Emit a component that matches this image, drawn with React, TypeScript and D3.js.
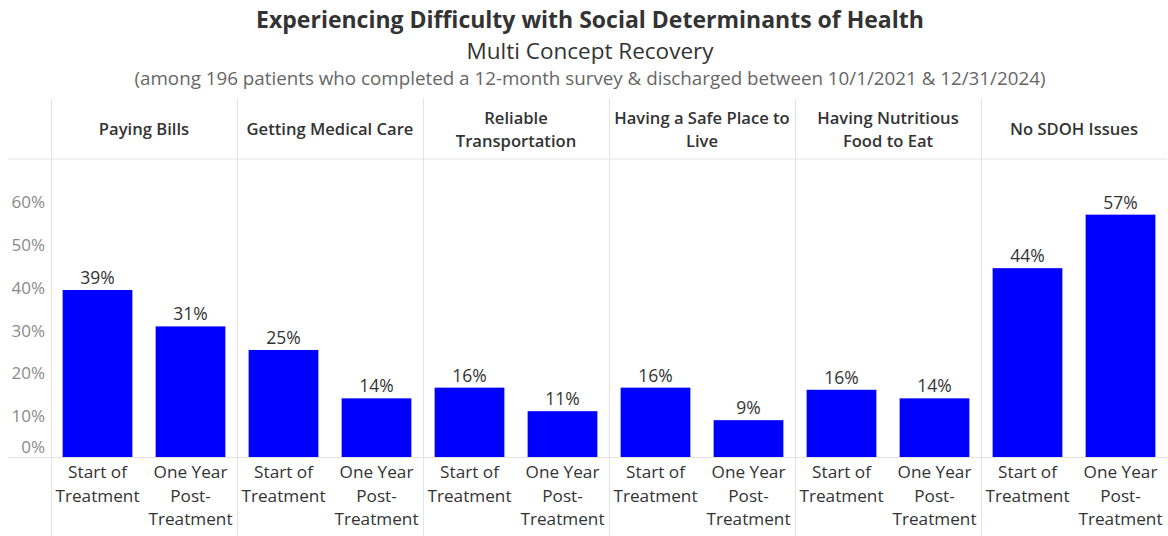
import React from "react";
import * as d3 from "d3";

const categoryLines: string[][] = [
  ["Paying Bills"],
  ["Getting Medical Care"],
  ["Reliable", "Transportation"],
  ["Having a Safe Place to", "Live"],
  ["Having Nutritious", "Food to Eat"],
  ["No SDOH Issues"],
];
const categories = categoryLines.map((l) => l.join(" "));
const timepoints = ["Start of Treatment", "One Year Post-Treatment"];
const timepointLines: string[][] = [
  ["Start of", "Treatment"],
  ["One Year", "Post-", "Treatment"],
];
const startOfTreatment = [0.39, 0.25, 0.162, 0.162, 0.157, 0.441];
const oneYearPost = [0.305, 0.137, 0.107, 0.086, 0.137, 0.566];
const yTicks = [0, 0.1, 0.2, 0.3, 0.4, 0.5, 0.6];

const titleText = "Experiencing Difficulty with Social Determinants of Health";
const subtitleText = "Multi Concept Recovery";
const noteText =
  "(among 196 patients who completed a 12-month survey & discharged between 10/1/2021 & 12/31/2024)";

const W = 1168;
const H = 536;
const FONT = "'Open Sans', 'DejaVu Sans', sans-serif";
const DARK = "#333333";
const GRID = "#e3e3e3";
const BLUE = "#0000ff";

export default function App() {
  const left = 51;
  const right = 1167;
  const headerTop = 98;
  const headerBottom = 159;
  const baseline = 457;

  const x0 = d3.scaleBand<string>().domain(categories).range([left, right]).padding(0);
  const x1 = d3
    .scaleBand<string>()
    .domain(timepoints)
    .range([0, x0.bandwidth()])
    .paddingInner(0.25)
    .paddingOuter(0.125);
  const y = d3.scaleLinear().domain([0, 0.696]).range([baseline, headerBottom]);
  const fmt = d3.format(".0%");
  const series = [startOfTreatment, oneYearPost];

  return (
    <svg
      width={W}
      height={H}
      style={{ position: "absolute", left: 0, top: 0, background: "#fff" }}
      fontFamily={FONT}
    >
      {/* titles */}
      <text x={590} y={28} textAnchor="middle" fontSize={23} fontWeight={700} fill={DARK}>
        {titleText}
      </text>
      <text x={590} y={59} textAnchor="middle" fontSize={22.5} fill={DARK}>
        {subtitleText}
      </text>
      <text x={590} y={85} textAnchor="middle" fontSize={18.8} fill="#666">
        {noteText}
      </text>

      {/* grid lines */}
      <line x1={8} x2={right} y1={headerBottom} y2={headerBottom} stroke={GRID} />
      <line x1={8} x2={right} y1={baseline + 0.5} y2={baseline + 0.5} stroke={GRID} />
      {categories.map((c) => (
        <line
          key={"v" + c}
          x1={(x0(c) as number) + 0.5}
          x2={(x0(c) as number) + 0.5}
          y1={headerTop}
          y2={H}
          stroke={GRID}
        />
      ))}

      {/* headers */}
      {categories.map((c, i) => {
        const lines = categoryLines[i];
        const cx = (x0(c) as number) + x0.bandwidth() / 2;
        const mid = (headerTop + headerBottom) / 2 + 1;
        const lh = 23;
        const startY = mid - ((lines.length - 1) * lh) / 2;
        return (
          <text key={"h" + c} textAnchor="middle" fontSize={16.6} fontWeight={600} fill={DARK}>
            {lines.map((l, j) => (
              <tspan key={j} x={cx} y={startY + j * lh} dy="0.35em">
                {l}
              </tspan>
            ))}
          </text>
        );
      })}

      {/* y axis */}
      {yTicks.map((t) => (
        <text
          key={"t" + t}
          x={45}
          y={y(t) + (t === 0 ? -10 : 2)}
          dy="0.35em"
          textAnchor="end"
          fontSize={17}
          fill="#8a8a8a"
        >
          {fmt(t)}
        </text>
      ))}

      {/* bars */}
      {categories.map((c, i) =>
        timepoints.map((tp, k) => {
          const v = series[k][i];
          const bx = (x0(c) as number) + (x1(tp) as number);
          const by = y(v);
          return (
            <g key={c + tp}>
              <rect x={bx} y={by} width={x1.bandwidth()} height={baseline - by} fill={BLUE} />
              <text
                x={bx + x1.bandwidth() / 2}
                y={by - 6}
                textAnchor="middle"
                fontSize={17.5}
                fill={DARK}
              >
                {fmt(v)}
              </text>
            </g>
          );
        })
      )}

      {/* x labels */}
      {categories.map((c) =>
        timepoints.map((tp, k) => {
          const cx = (x0(c) as number) + (x1(tp) as number) + x1.bandwidth() / 2;
          return (
            <text key={"xl" + c + tp} textAnchor="middle" fontSize={17.2} fill={DARK}>
              {timepointLines[k].map((l, j) => (
                <tspan key={j} x={cx} y={472 + j * 23.5} dy="0.35em">
                  {l}
                </tspan>
              ))}
            </text>
          );
        })
      )}
    </svg>
  );
}
